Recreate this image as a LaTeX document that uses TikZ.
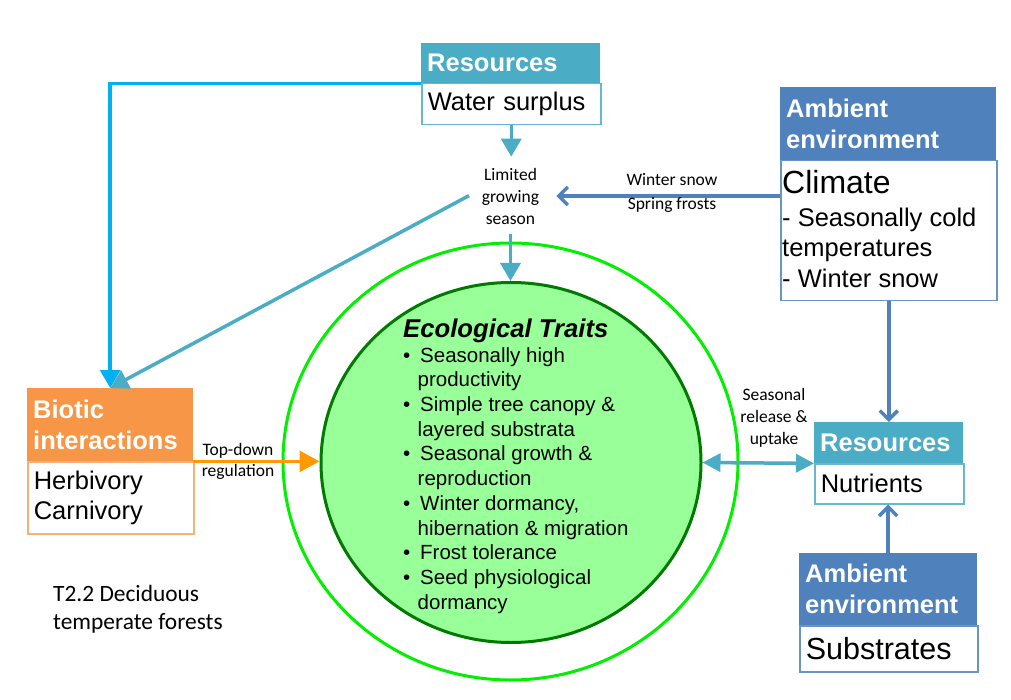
\documentclass[tikz,border=0pt]{standalone}
\usepackage{fontspec}
\setmainfont{Liberation Sans}
\newfontfamily\calfont{Carlito}
\usetikzlibrary{arrows.meta,shapes.geometric}
\definecolor{resc}{HTML}{4BACC6}
\definecolor{ambc}{HTML}{4F81BD}
\definecolor{bioc}{HTML}{F79646}
\definecolor{cyanc}{HTML}{00B0F0}
\definecolor{orc}{HTML}{FF9900}
\definecolor{brightg}{HTML}{00F000}
\definecolor{darkg}{HTML}{007A00}
\definecolor{fillg}{HTML}{99FF99}
\begin{document}
\begin{tikzpicture}[x=1pt,y=-1pt,
  hdr/.style={rectangle, anchor=north west, inner xsep=6pt, inner ysep=0pt, text=white, align=left, font=\bfseries\fontsize{25.5}{31}\selectfont},
  bdy/.style={rectangle, anchor=north west, inner xsep=6pt, inner ysep=0pt, fill=white, line width=1.5pt, align=left, font=\fontsize{25.5}{30}\selectfont},
  lbl/.style={font=\calfont\fontsize{17.5}{22}\selectfont, align=center, inner sep=3pt},
  tealarr/.style={draw=resc, line width=3.5pt, -{Triangle[length=18pt,width=20pt]}},
  barbarr/.style={draw=ambc, line width=3.5pt, -{Straight Barb[length=9pt,width=18pt]}},
]
\useasboundingbox (0,0) rectangle (1011,700);
\fill[white] (0,0) rectangle (1011,700);

% circles
\node[ellipse, draw=brightg, line width=3pt, minimum width=455pt, minimum height=437pt, inner sep=0pt] (outer) at (510.5,461.5) {};
\node[ellipse, draw=darkg, fill=fillg, line width=3pt, minimum width=380pt, minimum height=360pt, inner sep=0pt] (inner) at (511,462.5) {};

% Resources (water)
\node[hdr, fill=resc, minimum width=179pt, minimum height=40pt, text width=167pt] (r1h) at (421,43) {Resources};
\node[bdy, draw=resc!85, minimum width=179pt, minimum height=41pt, text width=167pt] (r1b) at (421,83) {Water surplus};

% Ambient environment (climate)
\node[hdr, fill=ambc, minimum width=216pt, minimum height=73pt, text width=204pt] (clh) at (780,87) {Ambient\\environment};
\node[bdy, draw=ambc!85, minimum width=216pt, minimum height=140pt] (clb) at (780,160) {};
\node[anchor=base west, inner sep=0pt, font=\fontsize{32}{32}\selectfont] (cl1) at (782,194) {Climate};
\node[anchor=base west, inner sep=0pt, font=\fontsize{25.5}{30}\selectfont] (cl2) at (782,227) {- Seasonally cold};
\node[anchor=base west, inner sep=0pt, font=\fontsize{25.5}{30}\selectfont] (cl3) at (782,257) {temperatures};
\node[anchor=base west, inner sep=0pt, font=\fontsize{25.5}{30}\selectfont] (cl4) at (782,288) {- Winter snow};

% Biotic interactions
\node[hdr, fill=bioc, minimum width=166pt, minimum height=73pt, text width=154pt] (bh) at (27,388) {Biotic\\interactions};
\node[bdy, draw=bioc!75, minimum width=166pt, minimum height=72pt, text width=154pt] (bb) at (27,461) {Herbivory\\Carnivory};

% Resources (nutrients)
\node[hdr, fill=resc, minimum width=149pt, minimum height=41pt, text width=137pt] (nh) at (814,422) {Resources};
\node[bdy, draw=resc!85, minimum width=149pt, minimum height=40pt, text width=137pt] (nb) at (814,463) {Nutrients};

% Ambient environment (substrates)
\node[hdr, fill=ambc, minimum width=178pt, minimum height=72pt, text width=166pt] (sh) at (799,553) {Ambient\\environment};
\node[bdy, draw=ambc!85, minimum width=178pt, minimum height=46pt, text width=166pt, font=\fontsize{30.5}{32}\selectfont] (sb) at (799,625) {Substrates};

% Limited growing season
\node[lbl] (lim) at (510.5,196) {Limited\\growing\\season};

% Ecological traits
\node[anchor=north west, inner sep=0pt, align=left, font=\fontsize{20.5}{24.7}\selectfont] (eco) at (403,318.6) {%
{\bfseries\itshape\fontsize{25.7}{24.7}\selectfont Ecological Traits}\\
\makebox[17pt][l]{•}Seasonally high\\
\hspace*{14.5pt}productivity\\
\makebox[17pt][l]{•}Simple tree canopy \&\\
\hspace*{14.5pt}layered substrata\\
\makebox[17pt][l]{•}Seasonal growth \&\\
\hspace*{14.5pt}reproduction\\
\makebox[17pt][l]{•}Winter dormancy,\\
\hspace*{14.5pt}hibernation \& migration\\
\makebox[17pt][l]{•}Frost tolerance\\
\makebox[17pt][l]{•}Seed physiological\\
\hspace*{14.5pt}dormancy};

% connectors
\draw[tealarr, shorten >=8pt] (r1b.south) -- (r1b.south |- lim.north);
\draw[tealarr, shorten <=7pt] (lim.south) -- (lim.south |- inner.north);
\draw[tealarr, shorten <=11pt] (lim.170) -- (bh.north);
\draw[draw=cyanc, line width=3.5pt, -{Triangle[length=18pt,width=20pt]}] (r1h.south west) -| (bh.north);
\draw[barbarr, shorten >=14pt] (lim.east -| clb.west) -- (lim.east);
\draw[barbarr] (clb.south) -- (clb.south |- nh.north);
\draw[barbarr] (sh.north) -- (sh.north |- nb.south);
\draw[draw=orc, line width=3pt, -{Triangle[length=20pt,width=21pt]}] (bh.south east) -- (bh.south east -| inner.west);
\draw[draw=resc, line width=3.5pt, {Triangle[length=18pt,width=18pt]}-{Triangle[length=18pt,width=18pt]}] (inner.east) -- (nh.south west);

% labels
\node[lbl, font=\calfont\fontsize{17.5}{24}\selectfont] (ws) at (672,193) {Winter snow\\Spring frosts};
\node[lbl, font=\calfont\fontsize{17.5}{21}\selectfont] (td) at (238,461) {Top-down\\regulation};
\node[lbl] (sr) at (774,418) {Seasonal\\release \&\\uptake};
\node[anchor=west, align=left, inner sep=0pt, font=\calfont\fontsize{23.4}{28}\selectfont] (title) at (53,609) {T2.2 Deciduous\\temperate forests};
\end{tikzpicture}
\end{document}
